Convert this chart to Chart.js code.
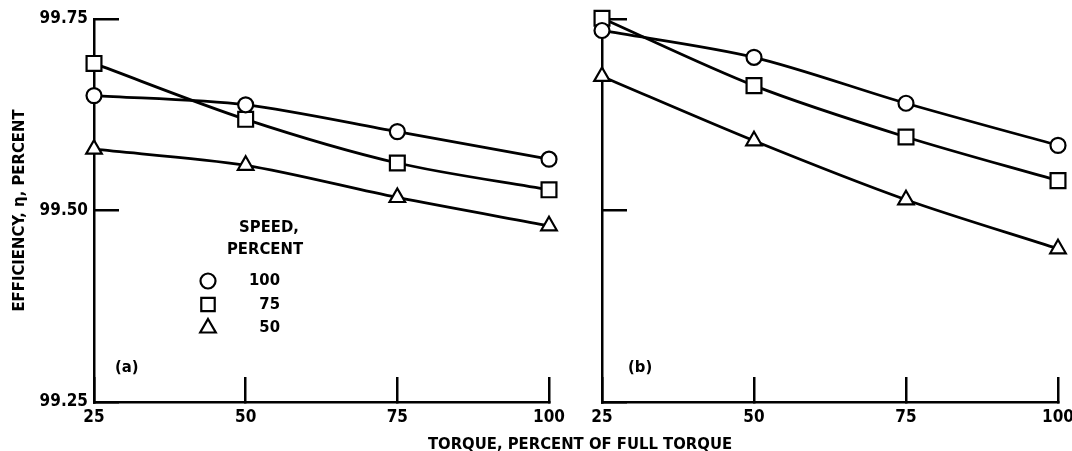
<!DOCTYPE html>
<html>
<head>
<meta charset="utf-8">
<script src="https://cdn.jsdelivr.net/npm/chart.js@4.4.1/dist/chart.umd.min.js"></script>
<style>
  body { margin: 0; background: #fff; width: 1072px; height: 451px; overflow: hidden; position: relative;
         font-family: 'DejaVu Sans Condensed', 'DejaVu Sans', sans-serif; }
  .panel { position: absolute; top: 0; }
  .panel canvas { display: block; }
  #xTitle { position: absolute; left: 380px; width: 400px; top: 434px; text-align: center;
            font-size: 16.5px; font-weight: bold; line-height: 20px; color: #000; }
</style>
</head>
<body>
<div class="panel" style="left:0"><canvas id="chartA" width="575" height="451"></canvas></div>
<div class="panel" style="left:575px"><canvas id="chartB" width="497" height="451"></canvas></div>
<div id="xTitle">TORQUE, PERCENT OF FULL TORQUE</div>
<script>
const torque = [25, 50, 75, 100];
const torqueTicks = [25, 50, 75, 100];
const effTicks = [99.25, 99.50, 99.75];
const speedLabels = ['100', '75', '50'];
const markers = ['circle', 'rect', 'triangle'];
const markerSize = [7.5, 10.5, 9];

// panel (a)
const effA100 = [99.650, 99.638, 99.603, 99.567];
const effA75  = [99.692, 99.619, 99.562, 99.527];
const effA50  = [99.580, 99.559, 99.517, 99.480];

// panel (b)
const effB100 = [99.735, 99.700, 99.640, 99.585];
const effB75  = [99.751, 99.663, 99.596, 99.539];
const effB50  = [99.675, 99.591, 99.514, 99.450];

const FONT = "'DejaVu Sans Condensed', 'DejaVu Sans', sans-serif";

function makeSets(series) {
    return series.map((vals, i) => ({
        label: speedLabels[i],
        data: torque.map((t, j) => ({x: t, y: vals[j]})),
        borderColor: '#000',
        borderWidth: 2.8,
        pointStyle: markers[i],
        pointRadius: markerSize[i],
        pointBorderColor: '#000',
        pointBorderWidth: 2.2,
        pointBackgroundColor: '#fff',
        tension: 0.3,
        fill: false,
        clip: false
    }));
}

function makeScales(yWidth, yLabels, yTitle) {
    return {
        x: {
            type: 'linear', min: 25, max: 100, z: 1,
            afterBuildTicks: s => { s.ticks = torqueTicks.map(v => ({value: v})); },
            afterFit: s => { s.height = 49; s.paddingLeft = 0; s.paddingRight = 0; },
            border: {color: '#000', width: 2.5},
            grid: {drawOnChartArea: false, drawTicks: true, tickLength: -25, color: '#000', lineWidth: 2.5},
            ticks: {color: '#000', font: {family: FONT, size: 17, weight: 'bold'}, padding: 30,
                    maxRotation: 0, autoSkip: false}
        },
        y: {
            type: 'linear', min: 99.25, max: 99.75, z: 1,
            afterBuildTicks: s => { s.ticks = effTicks.map(v => ({value: v})); },
            afterFit: s => { s.width = yWidth; s.paddingTop = 0; s.paddingBottom = 0; },
            border: {color: '#000', width: 2.5},
            grid: {drawOnChartArea: false, drawTicks: true, tickLength: -25, color: '#000', lineWidth: 2.5},
            ticks: {display: yLabels, color: '#000', font: {family: FONT, size: 17, weight: 'bold'}, padding: 31,
                    callback: v => v.toFixed(2)},
            title: {display: !!yTitle, text: yTitle || '', color: '#000',
                    font: {family: FONT, size: 16.5, weight: 'bold'}, padding: {top: 10, bottom: 0}}
        }
    };
}

// "(a)" / "(b)" tag in the lower left of each panel
const panelTag = {
    id: 'panelTag',
    afterDraw(chart, args, opts) {
        const {ctx, chartArea} = chart;
        ctx.save();
        ctx.fillStyle = '#000';
        ctx.font = 'bold 16.5px ' + FONT;
        ctx.textAlign = 'left';
        ctx.textBaseline = 'middle';
        ctx.fillText(opts.text, chartArea.left + opts.dx, chartArea.top + 349);
        ctx.restore();
    }
};

// speed key drawn inside panel (a)
const speedKey = {
    id: 'speedKey',
    afterDraw(chart) {
        const {ctx, chartArea: a} = chart;
        const keySize = [7.5, 9.5, 9];
        ctx.save();
        ctx.fillStyle = '#000';
        ctx.font = 'bold 16.5px ' + FONT;
        ctx.textAlign = 'center';
        ctx.textBaseline = 'middle';
        ctx.fillText('SPEED,', a.left + 175, a.top + 209);
        ctx.fillText('PERCENT', a.left + 171, a.top + 231);
        chart.data.datasets.forEach((ds, i) => {
            const y = a.top + 262 + i * 23.5;
            ctx.lineWidth = 2.2;
            ctx.strokeStyle = '#000';
            ctx.fillStyle = '#fff';
            Chart.helpers.drawPoint(ctx, {pointStyle: ds.pointStyle, radius: keySize[i], rotation: 0, borderWidth: 2.2},
                a.left + 114, y);
            ctx.fillStyle = '#000';
            ctx.textAlign = 'right';
            ctx.fillText(ds.label, a.left + 186, y);
        });
        ctx.restore();
    }
};

const commonPlugins = {
    legend: {display: false},
    tooltip: {enabled: false}
};

const chartA = new Chart(document.getElementById('chartA'), {
    type: 'line',
    data: {datasets: makeSets([effA100, effA75, effA50])},
    options: {
        responsive: false,
        animation: false,
        events: [],
        layout: {padding: {left: 0, top: 19, right: 26, bottom: 0}},
        scales: makeScales(94, true, 'EFFICIENCY, \u03b7, PERCENT'),
        plugins: Object.assign({panelTag: {text: '(a)', dx: 21}}, commonPlugins)
    },
    plugins: [panelTag, speedKey]
});

const chartB = new Chart(document.getElementById('chartB'), {
    type: 'line',
    data: {datasets: makeSets([effB100, effB75, effB50])},
    options: {
        responsive: false,
        animation: false,
        events: [],
        layout: {padding: {left: 0, top: 19, right: 14, bottom: 0}},
        scales: makeScales(27, false, null),
        plugins: Object.assign({panelTag: {text: '(b)', dx: 26}}, commonPlugins)
    },
    plugins: [panelTag]
});
</script>
</body>
</html>
